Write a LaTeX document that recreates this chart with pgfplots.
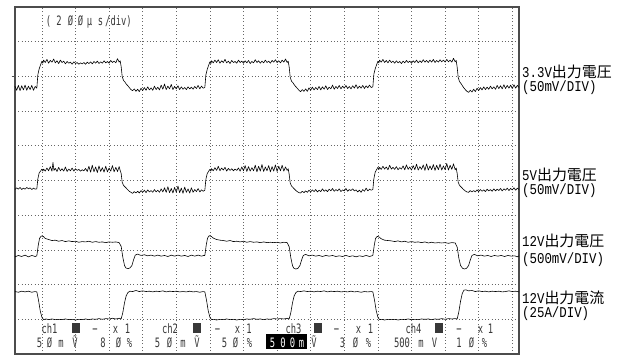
\documentclass[border=0pt]{standalone}
\usepackage{fontspec}
\usepackage{pgfplots}
\pgfplotsset{compat=1.18}
\newfontfamily\cjk{Noto Sans CJK JP}
\newfontfamily\labfont[FakeStretch=0.83]{Liberation Mono}
\newfontfamily\osc[FakeStretch=0.68]{DejaVu Sans Mono}
\definecolor{osctext}{gray}{0.22}
\newcommand{\lab}[2]{{\labfont\fontsize{15}{15}\selectfont #1}{\cjk\fontsize{15}{15}\selectfont #2}}
\newcommand{\ot}[3]{\node[anchor=base,inner sep=0pt,text=osctext,font=\osc\fontsize{13}{13}\selectfont] at (#1,#2) {#3};}
\newcommand{\otw}[3]{\node[anchor=base,inner sep=0pt,text=white,font=\osc\fontsize{13}{13}\selectfont] at (#1,#2) {#3};}
\newcommand{\sq}[1]{\fill[osctext] (#1-4,22) rectangle (#1+4,32);}

\pgfplotstableread{
x y
-0.80 7.72
-0.75 7.60
-0.70 7.74
-0.65 7.59
-0.60 7.73
-0.55 7.61
-0.50 7.75
-0.45 7.60
-0.40 7.72
-0.35 7.62
-0.30 7.74
-0.25 7.60
-0.20 7.71
-0.15 7.66
-0.12 8.05
-0.08 8.22
-0.04 8.33
0.00 8.44
0.03 8.38
0.05 8.47
0.10 8.40
0.15 8.49
0.20 8.38
0.25 8.46
0.30 8.41
0.35 8.50
0.40 8.39
0.45 8.45
0.50 8.37
0.55 8.47
0.60 8.40
0.65 8.44
0.70 8.36
0.75 8.43
0.80 8.38
0.85 8.41
0.90 8.35
0.95 8.42
1.00 8.37
1.05 8.40
1.10 8.35
1.15 8.39
1.20 8.36
1.25 8.40
1.30 8.35
1.35 8.41
1.40 8.37
1.45 8.42
1.50 8.36
1.55 8.43
1.60 8.38
1.65 8.44
1.70 8.37
1.75 8.42
1.80 8.38
1.85 8.45
1.90 8.39
1.95 8.43
2.00 8.38
2.05 8.46
2.10 8.40
2.15 8.44
2.20 8.39
2.25 8.51
2.30 8.41
2.33 8.45
2.36 8.28
2.39 8.00
2.43 7.88
2.47 7.84
2.51 7.78
2.55 7.74
2.60 7.68
2.65 7.62
2.70 7.59
2.75 7.64
2.80 7.57
2.85 7.63
2.90 7.56
2.95 7.66
3.00 7.59
3.05 7.68
3.10 7.60
3.15 7.70
3.20 7.61
3.25 7.67
3.30 7.60
3.35 7.72
3.40 7.62
3.45 7.69
3.50 7.61
3.55 7.75
3.60 7.63
3.65 7.78
3.70 7.62
3.75 7.72
3.80 7.64
3.85 7.77
3.90 7.62
3.95 7.71
4.00 7.64
4.05 7.73
4.10 7.62
4.15 7.70
4.20 7.63
4.25 7.68
4.30 7.62
4.35 7.70
4.40 7.64
4.45 7.69
4.50 7.63
4.55 7.71
4.60 7.65
4.65 7.74
4.70 7.64
4.75 7.72
4.80 7.66
4.85 7.68
4.88 8.04
4.92 8.20
4.96 8.31
5.00 8.42
5.03 8.37
5.05 8.45
5.10 8.39
5.15 8.47
5.20 8.40
5.25 8.48
5.30 8.38
5.35 8.45
5.40 8.40
5.45 8.49
5.50 8.39
5.55 8.44
5.60 8.37
5.65 8.46
5.70 8.40
5.75 8.43
5.80 8.38
5.85 8.47
5.90 8.40
5.95 8.44
6.00 8.38
6.05 8.45
6.10 8.39
6.15 8.46
6.20 8.37
6.25 8.43
6.30 8.39
6.35 8.48
6.40 8.40
6.45 8.45
6.50 8.38
6.55 8.44
6.60 8.39
6.65 8.47
6.70 8.40
6.75 8.44
6.80 8.38
6.85 8.46
6.90 8.41
6.95 8.48
7.00 8.40
7.05 8.45
7.10 8.39
7.15 8.47
7.20 8.41
7.25 8.50
7.30 8.40
7.33 8.44
7.36 8.27
7.39 7.98
7.43 7.86
7.47 7.82
7.51 7.76
7.55 7.71
7.60 7.66
7.65 7.60
7.70 7.56
7.75 7.62
7.80 7.57
7.85 7.64
7.90 7.57
7.95 7.67
8.00 7.60
8.05 7.69
8.10 7.61
8.15 7.68
8.20 7.62
8.25 7.71
8.30 7.61
8.35 7.70
8.40 7.63
8.45 7.73
8.50 7.62
8.55 7.69
8.60 7.64
8.65 7.75
8.70 7.63
8.75 7.71
8.80 7.65
8.85 7.74
8.90 7.64
8.95 7.72
9.00 7.66
9.05 7.74
9.10 7.65
9.15 7.71
9.20 7.64
9.25 7.73
9.30 7.66
9.35 7.76
9.40 7.65
9.45 7.72
9.50 7.66
9.55 7.74
9.60 7.65
9.65 7.73
9.70 7.67
9.75 7.75
9.80 7.68
9.85 7.70
9.88 8.06
9.92 8.22
9.96 8.33
10.00 8.44
10.03 8.39
10.05 8.47
10.10 8.41
10.15 8.49
10.20 8.40
10.25 8.46
10.30 8.39
10.35 8.47
10.40 8.40
10.45 8.44
10.50 8.38
10.55 8.45
10.60 8.39
10.65 8.43
10.70 8.37
10.75 8.44
10.80 8.39
10.85 8.46
10.90 8.40
10.95 8.44
11.00 8.38
11.05 8.45
11.10 8.40
11.15 8.47
11.20 8.39
11.25 8.45
11.30 8.40
11.35 8.48
11.40 8.41
11.45 8.46
11.50 8.40
11.55 8.47
11.60 8.41
11.65 8.49
11.70 8.40
11.75 8.46
11.80 8.41
11.85 8.48
11.90 8.42
11.95 8.47
12.00 8.41
12.05 8.49
12.10 8.42
12.15 8.47
12.20 8.41
12.25 8.52
12.30 8.42
12.33 8.46
12.36 8.26
12.39 7.97
12.43 7.85
12.47 7.80
12.51 7.74
12.55 7.68
12.60 7.62
12.65 7.57
12.70 7.54
12.75 7.60
12.80 7.55
12.85 7.63
12.90 7.56
12.95 7.66
13.00 7.59
13.05 7.68
13.10 7.61
13.15 7.70
13.20 7.62
13.25 7.69
13.30 7.63
13.35 7.72
13.40 7.64
13.45 7.70
13.50 7.63
13.55 7.74
13.60 7.65
13.65 7.73
13.70 7.64
13.75 7.76
13.80 7.65
13.85 7.74
13.90 7.66
13.95 7.75
14.00 7.65
14.05 7.76
14.10 7.66
14.15 7.74
14.20 7.68
}\chone

\pgfplotstableread{
x y
-0.80 4.74
-0.75 4.79
-0.70 4.75
-0.65 4.80
-0.60 4.74
-0.55 4.78
-0.50 4.75
-0.45 4.80
-0.40 4.76
-0.35 4.79
-0.30 4.74
-0.25 4.78
-0.20 4.75
-0.15 4.76
-0.12 5.05
-0.08 5.22
-0.04 5.27
0.00 5.33
0.03 5.27
0.05 5.33
0.10 5.27
0.15 5.36
0.20 5.28
0.25 5.40
0.30 5.27
0.33 5.52
0.36 5.29
0.40 5.35
0.45 5.26
0.50 5.38
0.55 5.28
0.60 5.34
0.65 5.27
0.70 5.39
0.75 5.26
0.80 5.33
0.85 5.28
0.90 5.36
0.95 5.27
1.00 5.34
1.05 5.29
1.10 5.32
1.15 5.27
1.20 5.31
1.25 5.28
1.30 5.35
1.35 5.26
1.40 5.41
1.45 5.24
1.50 5.44
1.55 5.25
1.60 5.39
1.65 5.23
1.70 5.42
1.75 5.26
1.80 5.37
1.85 5.24
1.90 5.41
1.95 5.25
2.00 5.36
2.05 5.27
2.10 5.43
2.15 5.25
2.20 5.38
2.25 5.26
2.30 5.40
2.33 5.29
2.36 5.20
2.39 4.95
2.43 4.86
2.47 4.82
2.51 4.78
2.55 4.74
2.60 4.69
2.65 4.66
2.70 4.63
2.75 4.68
2.80 4.64
2.85 4.69
2.90 4.64
2.95 4.71
3.00 4.66
3.05 4.72
3.10 4.65
3.15 4.73
3.20 4.67
3.25 4.71
3.30 4.66
3.35 4.74
3.40 4.67
3.45 4.72
3.50 4.66
3.55 4.76
3.60 4.67
3.65 4.79
3.70 4.66
3.75 4.82
3.80 4.65
3.85 4.77
3.90 4.64
3.95 4.80
4.00 4.66
4.05 4.84
4.10 4.65
4.15 4.78
4.20 4.63
4.25 4.81
4.30 4.66
4.35 4.76
4.40 4.64
4.45 4.79
4.50 4.66
4.55 4.74
4.60 4.68
4.65 4.77
4.70 4.67
4.75 4.73
4.80 4.69
4.85 4.72
4.88 5.03
4.92 5.20
4.96 5.26
5.00 5.32
5.03 5.27
5.05 5.34
5.10 5.28
5.15 5.37
5.20 5.29
5.25 5.41
5.30 5.28
5.35 5.36
5.40 5.30
5.45 5.38
5.50 5.27
5.55 5.35
5.60 5.29
5.65 5.34
5.70 5.28
5.75 5.33
5.80 5.29
5.85 5.36
5.90 5.27
5.95 5.39
6.00 5.28
6.05 5.43
6.10 5.26
6.15 5.40
6.20 5.27
6.25 5.37
6.30 5.28
6.35 5.44
6.40 5.25
6.45 5.41
6.50 5.27
6.55 5.46
6.60 5.26
6.65 5.39
6.70 5.28
6.75 5.43
6.80 5.25
6.85 5.40
6.90 5.27
6.95 5.45
7.00 5.26
7.05 5.41
7.10 5.28
7.15 5.44
7.20 5.27
7.25 5.39
7.30 5.29
7.33 5.34
7.36 5.18
7.39 4.93
7.43 4.84
7.47 4.80
7.51 4.76
7.55 4.72
7.60 4.68
7.65 4.65
7.70 4.64
7.75 4.69
7.80 4.65
7.85 4.70
7.90 4.66
7.95 4.72
8.00 4.67
8.05 4.73
8.10 4.68
8.15 4.74
8.20 4.67
8.25 4.72
8.30 4.68
8.35 4.76
8.40 4.69
8.45 4.73
8.50 4.68
8.55 4.75
8.60 4.70
8.65 4.77
8.70 4.69
8.75 4.74
8.80 4.70
8.85 4.76
8.90 4.68
8.95 4.73
9.00 4.70
9.05 4.77
9.10 4.69
9.15 4.74
9.20 4.71
9.25 4.76
9.30 4.70
9.35 4.73
9.40 4.67
9.45 4.72
9.50 4.66
9.55 4.74
9.60 4.69
9.65 4.78
9.70 4.70
9.75 4.75
9.80 4.72
9.85 4.74
9.88 5.05
9.92 5.24
9.96 5.31
10.00 5.38
10.03 5.32
10.05 5.38
10.10 5.32
10.15 5.41
10.20 5.33
10.25 5.39
10.30 5.31
10.35 5.44
10.40 5.33
10.45 5.38
10.50 5.32
10.55 5.40
10.60 5.31
10.65 5.37
10.70 5.33
10.75 5.42
10.80 5.31
10.85 5.45
10.90 5.32
10.95 5.39
11.00 5.30
11.05 5.43
11.10 5.31
11.15 5.47
11.20 5.30
11.25 5.40
11.30 5.32
11.35 5.45
11.40 5.29
11.45 5.48
11.50 5.30
11.55 5.42
11.60 5.31
11.65 5.46
11.70 5.29
11.75 5.44
11.80 5.31
11.85 5.47
11.90 5.30
11.95 5.42
12.00 5.31
12.05 5.49
12.10 5.30
12.15 5.44
12.20 5.32
12.25 5.48
12.30 5.31
12.33 5.36
12.36 5.20
12.39 4.95
12.43 4.86
12.47 4.82
12.51 4.78
12.55 4.74
12.60 4.70
12.65 4.67
12.70 4.66
12.75 4.71
12.80 4.67
12.85 4.71
12.90 4.67
12.95 4.73
13.00 4.68
13.05 4.74
13.10 4.69
13.15 4.73
13.20 4.68
13.25 4.75
13.30 4.70
13.35 4.74
13.40 4.69
13.45 4.76
13.50 4.70
13.55 4.75
13.60 4.71
13.65 4.77
13.70 4.70
13.75 4.76
13.80 4.72
13.85 4.78
13.90 4.71
13.95 4.77
14.00 4.73
14.05 4.79
14.10 4.72
14.15 4.78
14.20 4.74
}\chtwo

\pgfplotstableread{
x y
-0.80 2.80
-0.70 2.84
-0.60 2.81
-0.50 2.85
-0.40 2.80
-0.30 2.84
-0.20 2.81
-0.15 2.83
-0.11 3.12
-0.07 3.33
-0.02 3.40
0.04 3.39
0.10 3.33
0.20 3.30
0.30 3.27
0.40 3.28
0.50 3.25
0.60 3.27
0.70 3.24
0.80 3.26
0.90 3.24
1.00 3.25
1.10 3.22
1.20 3.24
1.30 3.23
1.40 3.25
1.50 3.22
1.60 3.24
1.70 3.22
1.80 3.23
1.90 3.21
2.00 3.23
2.10 3.22
2.20 3.23
2.30 3.21
2.36 3.10
2.41 2.78
2.46 2.55
2.50 2.48
2.56 2.46
2.62 2.48
2.68 2.55
2.73 2.72
2.78 2.85
2.85 2.88
2.95 2.84
3.05 2.86
3.15 2.83
3.25 2.85
3.35 2.82
3.45 2.85
3.55 2.82
3.65 2.84
3.75 2.81
3.85 2.85
3.95 2.82
4.05 2.85
4.15 2.82
4.25 2.84
4.35 2.81
4.45 2.85
4.55 2.82
4.65 2.85
4.75 2.82
4.82 2.84
4.85 2.84
4.89 3.13
4.93 3.34
4.98 3.41
5.04 3.39
5.10 3.34
5.20 3.30
5.30 3.28
5.40 3.27
5.50 3.25
5.60 3.27
5.70 3.24
5.80 3.25
5.90 3.23
6.00 3.25
6.10 3.22
6.20 3.24
6.30 3.22
6.40 3.23
6.50 3.21
6.60 3.23
6.70 3.21
6.80 3.22
6.90 3.21
7.00 3.22
7.10 3.20
7.20 3.22
7.30 3.21
7.36 3.09
7.41 2.77
7.46 2.54
7.50 2.47
7.56 2.45
7.62 2.47
7.68 2.55
7.73 2.71
7.78 2.84
7.85 2.87
7.95 2.83
8.05 2.85
8.15 2.82
8.25 2.84
8.35 2.81
8.45 2.84
8.55 2.82
8.65 2.84
8.75 2.81
8.85 2.83
8.95 2.81
9.05 2.84
9.15 2.81
9.25 2.83
9.35 2.80
9.45 2.83
9.55 2.81
9.65 2.84
9.75 2.81
9.82 2.83
9.85 2.84
9.89 3.12
9.93 3.33
9.98 3.39
10.04 3.37
10.10 3.32
10.20 3.28
10.30 3.27
10.40 3.26
10.50 3.24
10.60 3.26
10.70 3.23
10.80 3.25
10.90 3.22
11.00 3.24
11.10 3.22
11.20 3.23
11.30 3.21
11.40 3.23
11.50 3.20
11.60 3.22
11.70 3.20
11.80 3.21
11.90 3.20
12.00 3.21
12.10 3.19
12.20 3.21
12.30 3.20
12.36 3.08
12.41 2.76
12.46 2.55
12.52 2.47
12.58 2.45
12.64 2.47
12.70 2.55
12.75 2.71
12.80 2.84
12.87 2.87
12.97 2.83
13.07 2.85
13.17 2.82
13.27 2.84
13.37 2.81
13.47 2.84
13.57 2.82
13.67 2.84
13.77 2.81
13.87 2.84
13.97 2.82
14.07 2.83
14.15 2.80
14.20 2.83
}\chthree

\pgfplotstableread{
x y
-0.80 1.80
-0.70 1.78
-0.60 1.81
-0.50 1.79
-0.40 1.81
-0.30 1.78
-0.20 1.80
-0.15 1.79
-0.10 1.55
-0.05 1.25
0.00 1.06
0.05 0.99
0.12 1.01
0.20 0.99
0.30 1.01
0.40 0.99
0.50 1.00
0.60 0.99
0.70 1.01
0.80 0.99
0.90 1.00
1.00 0.98
1.10 1.00
1.20 0.99
1.30 1.01
1.40 0.99
1.50 1.01
1.60 1.00
1.70 1.02
1.80 1.00
1.90 1.02
2.00 1.01
2.10 1.03
2.20 1.01
2.30 1.03
2.36 1.01
2.41 1.20
2.46 1.48
2.51 1.68
2.56 1.77
2.62 1.81
2.70 1.80
2.80 1.83
2.90 1.80
3.00 1.82
3.10 1.80
3.20 1.81
3.30 1.79
3.40 1.81
3.50 1.80
3.60 1.82
3.70 1.79
3.80 1.81
3.90 1.80
4.00 1.81
4.10 1.79
4.20 1.80
4.30 1.79
4.40 1.81
4.50 1.79
4.60 1.80
4.70 1.78
4.80 1.80
4.85 1.79
4.90 1.55
4.95 1.25
5.00 1.06
5.05 0.99
5.12 1.00
5.20 0.98
5.30 1.00
5.40 0.99
5.50 1.01
5.60 0.99
5.70 1.00
5.80 0.98
5.90 1.00
6.00 0.99
6.10 1.01
6.20 1.00
6.30 1.02
6.40 1.00
6.50 1.01
6.60 0.99
6.70 1.01
6.80 1.00
6.90 1.02
7.00 1.01
7.10 1.02
7.20 1.01
7.30 1.03
7.36 1.01
7.41 1.20
7.46 1.48
7.51 1.68
7.56 1.77
7.62 1.81
7.70 1.80
7.80 1.82
7.90 1.80
8.00 1.81
8.10 1.79
8.20 1.81
8.30 1.80
8.40 1.82
8.50 1.79
8.60 1.81
8.70 1.80
8.80 1.81
8.90 1.79
9.00 1.80
9.10 1.79
9.20 1.81
9.30 1.79
9.40 1.80
9.50 1.78
9.60 1.80
9.70 1.79
9.80 1.80
9.85 1.79
9.90 1.55
9.95 1.25
10.00 1.06
10.05 0.99
10.12 1.00
10.20 0.98
10.30 1.00
10.40 0.99
10.50 1.00
10.60 0.98
10.70 1.00
10.80 0.99
10.90 1.01
11.00 0.99
11.10 1.00
11.20 0.99
11.30 1.01
11.40 1.00
11.50 1.01
11.60 0.99
11.70 1.01
11.80 1.00
11.90 1.02
12.00 1.00
12.10 1.02
12.20 1.01
12.30 1.02
12.36 1.01
12.41 1.22
12.46 1.52
12.51 1.74
12.56 1.84
12.62 1.85
12.70 1.82
12.80 1.83
12.90 1.80
13.00 1.82
13.10 1.80
13.20 1.81
13.30 1.79
13.40 1.81
13.50 1.80
13.60 1.81
13.70 1.79
13.80 1.80
13.90 1.82
14.00 1.80
14.10 1.81
14.20 1.79
}\chfour

\begin{document}
\begin{tikzpicture}[x=1bp,y=1bp]
\useasboundingbox (0,0) rectangle (629,355);
\begin{axis}[
  at={(15bp,1bp)}, anchor=south west,
  scale only axis, width=504bp, height=347bp,
  xmin=-0.8, xmax=14.2, ymin=0, ymax=10,
  xtick={0,1,...,14}, ytick={1,2,...,9},
  xticklabels={}, yticklabels={},
  major tick length=0pt,
  grid=major,
  major grid style={black!60, line width=0.7pt, dash pattern=on 0.7pt off 2.6pt},
  axis line style={line width=1.3pt, draw=black!70},
  clip=false,
]
\addplot[black, line width=0.6pt, line join=round] table[x=x,y=y] {\chone};
\addplot[black, line width=0.6pt, line join=round] table[x=x,y=y] {\chtwo};
\addplot[black, line width=0.6pt, line join=round] table[x=x,y=y] {\chthree};
\addplot[black, line width=0.6pt, line join=round] table[x=x,y=y] {\chfour};
\draw[black!70, line width=0.8pt] (axis cs:-0.9,8) -- (axis cs:-0.8,8);
\end{axis}
% time base text
\ot{48.5}{330}{(}
\ot{59}{330}{2}
\ot{70.5}{330}{Ø}
\ot{80.5}{330}{Ø}
\ot{89.5}{330}{µ}
\ot{100.5}{330}{s}
\node[anchor=base west,inner sep=0pt,text=osctext,font=\osc\fontsize{13}{13}\selectfont] at (105,330) {/div)};
% bottom status row 1
\ot{49.5}{22}{ch1}\sq{75.5}\ot{95}{22}{−}\ot{115.5}{22}{x}\ot{127.5}{22}{1}
\ot{170}{22}{ch2}\sq{196.5}\ot{217.5}{22}{−}\ot{237.5}{22}{x}\ot{249}{22}{1}
\ot{293.5}{22}{ch3}\sq{318}\ot{336.5}{22}{−}\ot{358.5}{22}{x}\ot{370.5}{22}{1}
\ot{413.5}{22}{ch4}\sq{439}\ot{459}{22}{−}\ot{480.5}{22}{x}\ot{490.5}{22}{1}
% bottom status row 2
\ot{39.5}{8}{5}\ot{49.5}{8}{Ø}\ot{61}{8}{m}\ot{75}{8}{Ṽ}
\ot{103}{8}{8}\ot{118.5}{8}{Ø}\ot{129.5}{8}{\%}
\ot{157.5}{8}{5}\ot{169.5}{8}{Ø}\ot{183}{8}{m}\ot{197}{8}{Ṽ}
\ot{224.5}{8}{5}\ot{235.5}{8}{Ø}\ot{249.5}{8}{\%}
\fill[black] (266,6) rectangle (307,21);
\otw{272.5}{8}{5}\otw{283}{8}{0}\otw{292.5}{8}{0}\otw{301.5}{8}{m}
\ot{314}{8}{Ṽ}
\ot{342.5}{8}{3}\ot{355.5}{8}{Ø}\ot{368.5}{8}{\%}
\ot{402}{8}{500}\ot{421}{8}{m}\ot{434.5}{8}{V}
\ot{459}{8}{1}\ot{471.5}{8}{Ø}\ot{484.5}{8}{\%}
% channel labels
\node[anchor=west,inner sep=0pt] at (522,283) {\lab{3.3V}{出力電圧}};
\node[anchor=west,inner sep=0pt] at (522,267) {\lab{(50mV/DIV)}{}};
\node[anchor=west,inner sep=0pt] at (522,180.5) {\lab{5V}{出力電圧}};
\node[anchor=west,inner sep=0pt] at (522,164) {\lab{(50mV/DIV)}{}};
\node[anchor=west,inner sep=0pt] at (522,114) {\lab{12V}{出力電圧}};
\node[anchor=west,inner sep=0pt] at (522,95) {\lab{(500mV/DIV)}{}};
\node[anchor=west,inner sep=0pt] at (522,57) {\lab{12V}{出力電流}};
\node[anchor=west,inner sep=0pt] at (522,41) {\lab{(25A/DIV)}{}};
\end{tikzpicture}
\end{document}
